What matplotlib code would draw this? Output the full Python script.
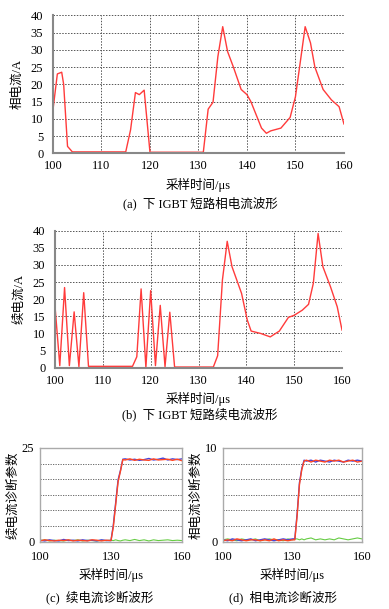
import matplotlib
matplotlib.use("Agg")
import matplotlib.pyplot as plt

plt.rcParams['font.family'] = ['Liberation Serif', 'Noto Sans CJK SC']
plt.rcParams['axes.unicode_minus'] = False

# (a) phase current
ta = [100, 100.9, 101.8, 102.2, 103, 104, 115, 116, 117, 117.8, 118.8, 120, 131,
      132, 133, 134, 135, 136, 137.2, 138.8, 140, 140.8, 143, 144, 144.9, 147,
      148.9, 150, 151, 152, 153.1, 154, 155.7, 157.4, 159, 160]
ia = [12.6, 23, 23.5, 20, 2, 0.4, 0.4, 6.8, 17.6, 17, 18.3, 0.3, 0.3,
      12.8, 14.8, 28, 36.7, 29.5, 25, 18.5, 17, 15, 7.3, 5.8, 6.5, 7.3,
      10.4, 16.4, 26.5, 36.7, 32, 25, 18.5, 15.5, 13.5, 8.5]

# (b) freewheeling current
tb = [100, 101, 102, 103, 104, 105, 106, 107, 116.2, 117.1, 118, 119, 120, 121,
      122, 123, 124, 125, 133.1, 134, 135, 136, 137, 139, 140.2, 141, 143, 145,
      146.9, 148.8, 150, 151.7, 153, 154, 155, 156, 157.6, 159, 160]
ib = [18, 0.6, 23.4, 0.6, 16.3, 0.3, 21.9, 0.4, 0.4, 3.2, 23, 0.1, 22.5, 0.6,
      18.2, 0.3, 16.2, 0.2, 0.2, 3.5, 25.6, 36.9, 29.5, 21.7, 13.9, 10.7, 10, 9,
      10.7, 14.7, 15.3, 16.8, 18.5, 24.6, 39.2, 29.5, 23.6, 17.8, 11]

# (c)/(d) diagnostic parameters
td = [100, 102, 104, 106, 108, 110, 112, 114, 116, 118, 120, 122, 124, 126, 128,
      130, 131, 132, 133, 134, 135, 136, 138, 140, 142, 144, 146, 148, 150, 152,
      154, 156, 158, 160]
c_blue = [0.4, 0.2, 0.5, 0.3, 0.2, 0.6, 0.3, 0.4, 0.2, 0.5, 0.3, 0.4, 0.2, 0.5, 0.3,
          0.3, 4.5, 10.5, 16.5, 19.0, 22.0, 22.1, 21.8, 22.0, 21.7, 21.9, 22.2, 21.8,
          22.0, 22.3, 21.8, 22.1, 21.9, 22.1]
c_red = [0.2, 0.5, 0.3, 0.2, 0.4, 0.3, 0.5, 0.2, 0.4, 0.3, 0.2, 0.5, 0.4, 0.2, 0.4,
         0.3, 4.0, 10.0, 16.0, 18.8, 21.9, 21.8, 22.1, 21.7, 22.0, 21.8, 21.7, 22.1,
         21.8, 21.9, 22.0, 21.7, 22.0, 21.6]
c_green = [0.3, 0.5, 0.2, 0.4, 0.3, 0.2, 0.4, 0.3, 0.5, 0.2, 0.4, 0.3, 0.2, 0.4, 0.3,
           0.4, 0.3, 0.5, 0.3, 0.2, 0.4, 0.5, 0.3, 0.6, 0.3, 0.5, 0.2, 0.5, 0.3, 0.4,
           0.5, 0.3, 0.4, 0.3]
d_blue = [0.2, 0.1, 0.3, 0.2, 0.1, 0.2, 0.3, 0.1, 0.2, 0.3, 0.2, 0.1, 0.2, 0.3, 0.2,
          0.3, 0.3, 3.0, 6.3, 7.8, 8.7, 8.6, 8.7, 8.5, 8.7, 8.6, 8.5, 8.7, 8.6, 8.5,
          8.7, 8.6, 8.7, 8.6]
d_red = [0.1, 0.2, 0.1, 0.3, 0.2, 0.1, 0.2, 0.2, 0.1, 0.2, 0.1, 0.3, 0.1, 0.2, 0.1,
         0.2, 0.2, 2.8, 6.1, 7.7, 8.6, 8.7, 8.5, 8.7, 8.6, 8.5, 8.7, 8.6, 8.7, 8.5,
         8.6, 8.7, 8.5, 8.6]
d_green = [0.2, 0.3, 0.2, 0.1, 0.3, 0.2, 0.2, 0.3, 0.1, 0.2, 0.3, 0.2, 0.2, 0.1, 0.3,
           0.2, 0.3, 0.3, 0.2, 0.3, 0.2, 0.3, 0.4, 0.2, 0.3, 0.2, 0.3, 0.2, 0.4, 0.3,
           0.2, 0.3, 0.4, 0.3]

fig = plt.figure(figsize=(3.89, 6.09), dpi=100)
FS = 9
GRAY = '#888888'
RED = '#ff3b3b'


def style_top(ax, ylabel):
    ax.set_xlim(100, 160)
    ax.set_ylim(0, 40)
    ax.set_xticks(range(100, 161, 10))
    ax.set_yticks(range(0, 41, 5))
    ax.grid(True, linestyle=(0, (1.5, 1.5)), color='#555555', linewidth=0.7)
    for s in ['top', 'right']:
        ax.spines[s].set_visible(False)
    for s in ['left', 'bottom']:
        ax.spines[s].set_color(GRAY)
        ax.spines[s].set_linewidth(1.5)
    ax.tick_params(axis='x', length=0, labelsize=FS, pad=5)
    ax.tick_params(axis='y', length=0, labelsize=FS, pad=7)
    ax.set_ylabel(ylabel, fontsize=FS, labelpad=5)
    ax.set_xlabel('采样时间/μs', fontsize=FS, labelpad=4)


ax1 = fig.add_axes([0.1362, 0.7483, 0.748, 0.2266])
ax1.plot(ta, ia, color=RED, lw=1.0)
style_top(ax1, '相电流/A')
fig.text(0.514, 1 - 203 / 609, '(a)  下 IGBT 短路相电流波形', ha='center', va='center', fontsize=FS)

ax2 = fig.add_axes([0.1414, 0.3962, 0.7378, 0.225])
ax2.plot(tb, ib, color=RED, lw=1.0)
style_top(ax2, '续电流/A')
fig.text(0.514, 1 - 414 / 609, '(b)  下 IGBT 短路续电流波形', ha='center', va='center', fontsize=FS)


def style_bot(ax, ymax, ylabel):
    ax.set_xlim(100, 160)
    ax.set_ylim(0, ymax)
    ax.set_xticks([100, 130, 160])
    ax.set_yticks([0, ymax])
    ax.set_yticks([ymax * k / 6 for k in range(1, 6)], minor=True)
    ax.grid(True, axis='y', which='minor', linestyle=(0, (1.5, 1.5)), color='#555555', linewidth=0.6)
    for s in ax.spines.values():
        s.set_color('#aaaaaa')
        s.set_linewidth(1.0)
    ax.tick_params(which='both', axis='x', length=0, labelsize=FS, pad=7)
    ax.tick_params(which='both', axis='y', length=0, labelsize=FS, pad=4)
    ax.set_ylabel(ylabel, fontsize=FS, labelpad=2)
    ax.set_xlabel('采样时间/μs', fontsize=FS, labelpad=3)


ax3 = fig.add_axes([0.1028, 0.1105, 0.365, 0.1539])
ax3.plot(td, c_green, color='#66cc44', lw=0.8)
ax3.plot(td, c_blue, color='#4444dd', lw=1.0)
ax3.plot(td, c_red, color='#ff4422', lw=1.0)
style_bot(ax3, 25, '续电流诊断参数')
fig.text(0.257, 1 - 597 / 609, '(c)  续电流诊断波形', ha='center', va='center', fontsize=FS)

ax4 = fig.add_axes([0.5733, 0.1105, 0.3573, 0.1539])
ax4.plot(td, d_green, color='#66cc44', lw=0.8)
ax4.plot(td, d_blue, color='#4444dd', lw=1.0)
ax4.plot(td, d_red, color='#ff4422', lw=1.0)
style_bot(ax4, 10, '相电流诊断参数')
fig.text(0.727, 1 - 597 / 609, '(d)  相电流诊断波形', ha='center', va='center', fontsize=FS)

fig.savefig('out.png', dpi=100)
